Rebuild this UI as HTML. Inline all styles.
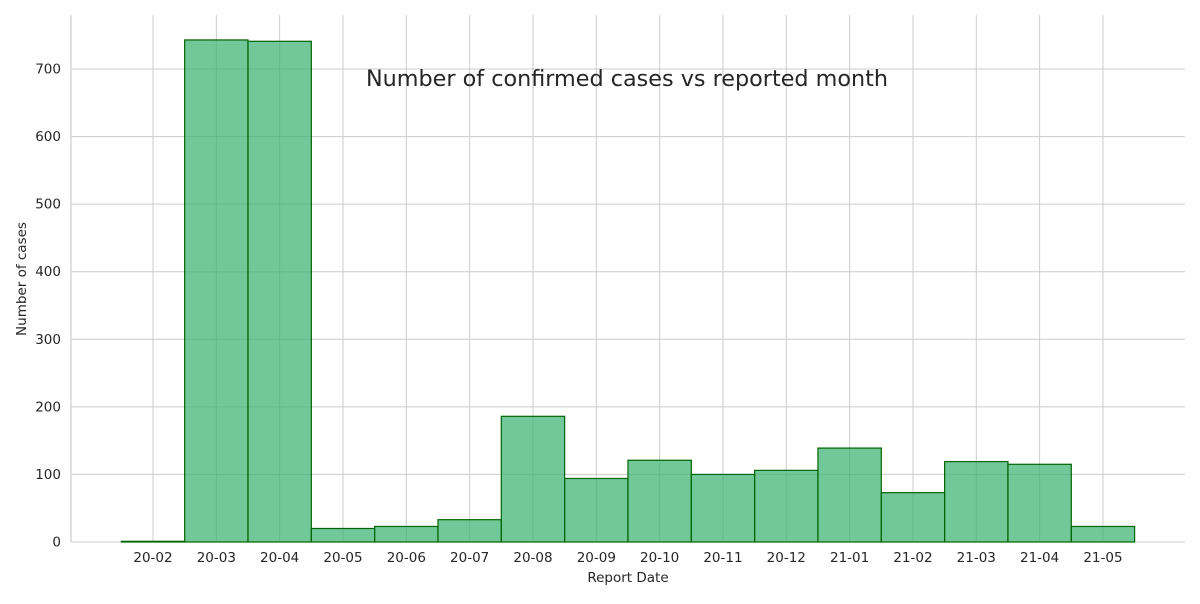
<!DOCTYPE html>
<html><head><meta charset="utf-8"><style>
body{margin:0;background:#fff;font-family:"DejaVu Sans","Liberation Sans",sans-serif;}
</style></head><body>
<svg id="chart" width="1200" height="600" xmlns="http://www.w3.org/2000/svg" font-family="DejaVu Sans, Liberation Sans, sans-serif"></svg>
<script>
const categories=["20-02","20-03","20-04","20-05","20-06","20-07","20-08","20-09","20-10","20-11","20-12","21-01","21-02","21-03","21-04","21-05"];
const caseCounts=[1,743,741,20,23,33,186,94,121,100,106,139,73,119,115,23];
const yTicks=[0,100,200,300,400,500,600,700];
const svg=document.getElementById('chart');
const NS='http://www.w3.org/2000/svg';
const L=71,R=1185,T=15,B=542;
const x0=153,step=63.33;
const xs=i=>x0+i*step;
const ys=v=>B-v*(473/700);
function mk(tag,attrs,parent){const e=document.createElementNS(NS,tag);for(const k in attrs)e.setAttribute(k,attrs[k]);(parent||svg).appendChild(e);return e;}
yTicks.forEach(t=>{
 const g=mk('line',{x1:L,x2:R,y1:ys(t),y2:ys(t),stroke:'#cccccc','stroke-width':1});
 
 
 const tx=mk('text',{x:L-10,y:ys(t)+4.5,'text-anchor':'end','font-size':13.5,fill:'#262626'});
 tx.textContent=t;
 
 
});
categories.forEach((c,i)=>{
 const g=mk('line',{x1:xs(i),x2:xs(i),y1:T,y2:B,stroke:'#cccccc','stroke-width':1});
 
 
});
categories.forEach((c,i)=>{
 const v=caseCounts[i];
 const b=mk('rect',{x:xs(i)-step/2,y:ys(v),width:step,height:B-ys(v),fill:'rgba(60,179,113,0.72)',stroke:'#006400','stroke-width':1.2});
 
 
 const tx=mk('text',{x:xs(i),y:562,'text-anchor':'middle','font-size':13.5,fill:'#262626'});
 tx.textContent=c;
 
 
});
const sp=mk('line',{x1:L,x2:L,y1:T,y2:B,stroke:'#cccccc','stroke-width':1.2});


const xt=mk('text',{x:628,y:582,'text-anchor':'middle','font-size':13.5,fill:'#262626'});
xt.textContent='Report Date';


const yt=mk('text',{x:26,y:279,'text-anchor':'middle','font-size':13.5,fill:'#262626',transform:'rotate(-90 26 279)'});
yt.textContent='Number of cases';


const tt=mk('text',{x:627,y:86,'text-anchor':'middle','font-size':22.3,fill:'#262626'});
tt.textContent='Number of confirmed cases vs reported month';


</script>
</body></html>
